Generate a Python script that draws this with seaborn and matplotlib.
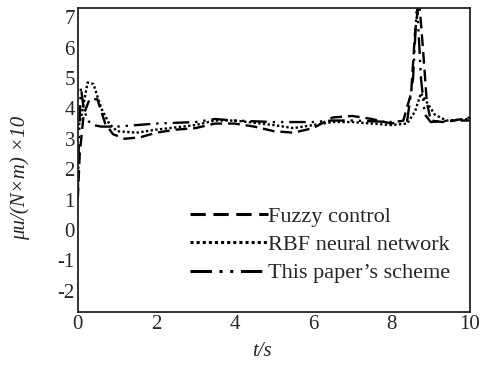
import matplotlib
matplotlib.use("Agg")
import matplotlib.pyplot as plt
import seaborn as sns
import pandas as pd

sns.set_theme(style="white")
plt.rcParams['font.family'] = ['Liberation Serif', 'DejaVu Serif']

# Fuzzy control (dashed)
t_fuzzy = [0, 0.05, 0.15, 0.3, 0.5, 0.7, 0.9, 1.2, 1.6, 2.0, 2.5, 3.0, 3.5, 4.0, 4.5, 5.0, 5.5,
           6.0, 6.5, 7.0, 7.5, 8.0, 8.3, 8.5, 8.6, 8.7, 8.8, 8.9, 9.0, 9.3, 9.6, 10.0]
y_fuzzy = [1.0, 2.5, 3.8, 4.3, 4.3, 3.5, 3.15, 3.0, 3.05, 3.2, 3.3, 3.35, 3.5, 3.5, 3.4, 3.25, 3.2,
           3.35, 3.7, 3.75, 3.65, 3.5, 3.6, 4.5, 6.5, 7.6, 6.0, 4.2, 3.6, 3.55, 3.6, 3.7]

# RBF neural network (dotted)
t_rbf = [0, 0.1, 0.25, 0.4, 0.6, 0.8, 1.0, 1.5, 2.0, 3.0, 3.5, 4.0, 5.0, 5.5, 6.0, 6.5, 7.0,
         7.5, 8.0, 8.4, 8.6, 8.75, 8.9, 9.1, 9.4, 10.0]
y_rbf = [3.3, 3.8, 4.85, 4.8, 4.0, 3.5, 3.25, 3.2, 3.3, 3.45, 3.6, 3.6, 3.45, 3.35, 3.45, 3.55, 3.55,
         3.5, 3.45, 3.5, 3.9, 4.5, 4.2, 3.8, 3.6, 3.65]

# This paper's scheme (dash-dot-dot)
t_ours = [0, 0.03, 0.08, 0.15, 0.25, 0.4, 0.6, 1.0, 1.5, 2.0, 3.0, 3.5, 4.0, 5.0, 6.0, 6.5, 7.0,
          8.0, 8.4, 8.55, 8.65, 8.75, 8.85, 9.0, 9.5, 10.0]
y_ours = [1.0, 3.0, 4.7, 4.0, 3.6, 3.45, 3.4, 3.4, 3.45, 3.5, 3.55, 3.65, 3.6, 3.55, 3.55, 3.6, 3.6,
          3.55, 3.6, 5.0, 7.5, 5.0, 3.8, 3.55, 3.6, 3.6]

labels = ["Fuzzy control", "RBF neural network", "This paper\u2019s scheme"]
xticks = [0, 2, 4, 6, 8, 10]
yticks = [-2, -1, 0, 1, 2, 3, 4, 5, 6, 7]

fig = plt.figure(figsize=(4.83, 3.65), dpi=100)
ax = fig.add_axes([0.161, 0.145, 0.812, 0.833])

dash_styles = [(5, 2.5), (1, 1), (7, 2.5, 1, 2.5, 1, 2.5)]
series = [(t_fuzzy, y_fuzzy), (t_rbf, y_rbf), (t_ours, y_ours)]
for (t, y), lab, dash in zip(series, labels, dash_styles):
    df = pd.DataFrame({"t": t, "y": y})
    sns.lineplot(data=df, x="t", y="y", ax=ax, color="black", linewidth=1.7,
                 label=lab, dashes=False)
    ax.lines[-1].set_dashes(dash)

ax.set_xlim(0, 10)
ax.set_ylim(-2.7, 7.3)
ax.set_xticks(xticks)
ax.set_yticks(yticks)
ax.set_xticklabels([str(v) for v in xticks], fontsize=15)
ax.set_yticklabels([str(v) for v in yticks], fontsize=15)
ax.tick_params(length=0, pad=2)
for s in ax.spines.values():
    s.set_color("#222222")
    s.set_linewidth(1.3)

ax.set_xlabel("t/s", fontsize=15, style="italic")
ax.set_ylabel("\u03bcu/(N\u00d7m) \u00d710", fontsize=15, style="italic")
ax.xaxis.set_label_coords(0.47, -0.10)
ax.yaxis.set_label_coords(-0.122, 0.44)

leg = ax.legend(loc="upper left", bbox_to_anchor=(0.259, 0.385), frameon=False,
                fontsize=16, handlelength=3.5, handletextpad=0.0,
                labelspacing=0.35, borderpad=0)
for h, dash in zip(leg.get_lines(), dash_styles):
    h.set_linewidth(2.2)
    h.set_dashes(dash)

fig.savefig("out.png", dpi=100)
